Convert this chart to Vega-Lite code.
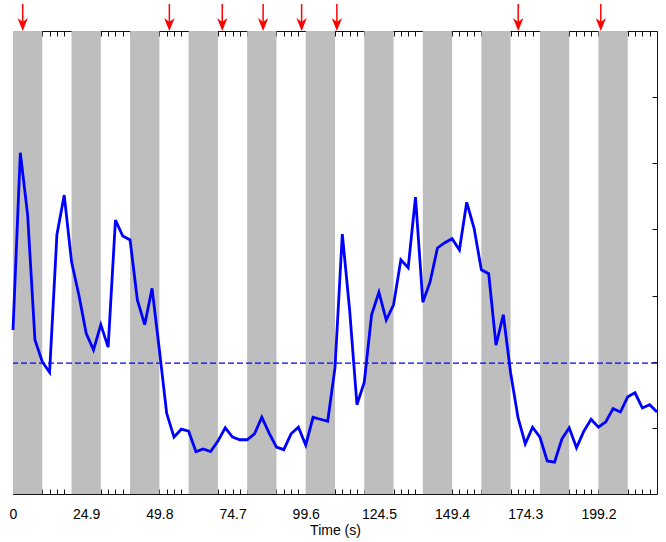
{
  "$schema": "https://vega.github.io/schema/vega-lite/v6.json",
  "width": 644,
  "height": 463,
  "autosize": {"type": "none"},
  "padding": {"left": 13, "top": 31, "right": 9, "bottom": 48},
  "background": "#ffffff",
  "config": {
    "view": {"stroke": "#111111", "strokeWidth": 1},
    "axis": {"grid": false, "domain": false, "labelFont": "Liberation Sans", "titleFont": "Liberation Sans", "tickColor": "#111111", "tickWidth": 1, "zindex": 1}
  },
  "datasets": {
    "signal": [
      {"t": 0, "v": 2.48}, {"t": 2.49, "v": 5.16}, {"t": 4.98, "v": 4.22}, {"t": 7.47, "v": 2.33}, {"t": 9.96, "v": 2.0},
      {"t": 12.45, "v": 1.84}, {"t": 14.94, "v": 3.92}, {"t": 17.43, "v": 4.52}, {"t": 19.92, "v": 3.51}, {"t": 22.41, "v": 3.01},
      {"t": 24.9, "v": 2.43}, {"t": 27.39, "v": 2.18}, {"t": 29.88, "v": 2.56}, {"t": 32.37, "v": 2.22}, {"t": 34.86, "v": 4.14},
      {"t": 37.35, "v": 3.9}, {"t": 39.84, "v": 3.84}, {"t": 42.33, "v": 2.93}, {"t": 44.82, "v": 2.56}, {"t": 47.31, "v": 3.11},
      {"t": 49.8, "v": 2.18}, {"t": 52.29, "v": 1.22}, {"t": 54.78, "v": 0.86}, {"t": 57.27, "v": 0.98}, {"t": 59.76, "v": 0.95},
      {"t": 62.25, "v": 0.64}, {"t": 64.74, "v": 0.68}, {"t": 67.23, "v": 0.64}, {"t": 69.72, "v": 0.8}, {"t": 72.21, "v": 1.0},
      {"t": 74.7, "v": 0.86}, {"t": 77.19, "v": 0.82}, {"t": 79.68, "v": 0.82}, {"t": 82.17, "v": 0.91}, {"t": 84.66, "v": 1.16},
      {"t": 87.15, "v": 0.92}, {"t": 89.64, "v": 0.71}, {"t": 92.13, "v": 0.67}, {"t": 94.62, "v": 0.91}, {"t": 97.11, "v": 1.01},
      {"t": 99.6, "v": 0.74}, {"t": 102.09, "v": 1.16}, {"t": 104.58, "v": 1.13}, {"t": 107.07, "v": 1.1}, {"t": 109.56, "v": 1.91},
      {"t": 112.05, "v": 3.93}, {"t": 114.54, "v": 2.78}, {"t": 117.03, "v": 1.35}, {"t": 119.52, "v": 1.69}, {"t": 122.01, "v": 2.71},
      {"t": 124.5, "v": 3.05}, {"t": 126.99, "v": 2.63}, {"t": 129.48, "v": 2.86}, {"t": 131.97, "v": 3.54}, {"t": 134.46, "v": 3.42},
      {"t": 136.95, "v": 4.49}, {"t": 139.44, "v": 2.9}, {"t": 141.93, "v": 3.21}, {"t": 144.42, "v": 3.72}, {"t": 146.91, "v": 3.8},
      {"t": 149.4, "v": 3.86}, {"t": 151.89, "v": 3.69}, {"t": 154.38, "v": 4.41}, {"t": 156.87, "v": 4.02}, {"t": 159.36, "v": 3.39},
      {"t": 161.85, "v": 3.33}, {"t": 164.34, "v": 2.25}, {"t": 166.83, "v": 2.71}, {"t": 169.32, "v": 1.83}, {"t": 171.81, "v": 1.16},
      {"t": 174.3, "v": 0.76}, {"t": 176.79, "v": 1.01}, {"t": 179.28, "v": 0.86}, {"t": 181.77, "v": 0.5}, {"t": 184.26, "v": 0.48},
      {"t": 186.75, "v": 0.83}, {"t": 189.24, "v": 1.0}, {"t": 191.73, "v": 0.7}, {"t": 194.22, "v": 0.95}, {"t": 196.71, "v": 1.13},
      {"t": 199.2, "v": 1.01}, {"t": 201.69, "v": 1.09}, {"t": 204.18, "v": 1.29}, {"t": 206.67, "v": 1.24}, {"t": 209.16, "v": 1.47},
      {"t": 211.65, "v": 1.53}, {"t": 214.14, "v": 1.3}, {"t": 216.63, "v": 1.35}, {"t": 219.12, "v": 1.24}
    ],
    "blocks": [
      {"start": 0, "end": 9.96}, {"start": 19.92, "end": 29.88}, {"start": 39.84, "end": 49.8}, {"start": 59.76, "end": 69.72},
      {"start": 79.68, "end": 89.64}, {"start": 99.6, "end": 109.56}, {"start": 119.52, "end": 129.48}, {"start": 139.44, "end": 149.4},
      {"start": 159.36, "end": 169.32}, {"start": 179.28, "end": 189.24}, {"start": 199.2, "end": 209.16}
    ],
    "events": [
      {"t": 3.3}, {"t": 53.2}, {"t": 71.2}, {"t": 85.1}, {"t": 98.2}, {"t": 110.2}, {"t": 171.9}, {"t": 200.0}
    ],
    "baseline": [{"level": 1.98}]
  },
  "layer": [
    {
      "data": {"name": "blocks"},
      "mark": {"type": "rect", "color": "#bebebe"},
      "encoding": {
        "x": {
          "field": "start", "type": "quantitative",
          "scale": {"domain": [0, 219.12], "nice": false, "zero": false},
          "axis": {
            "orient": "bottom",
            "values": [0,2.49,4.98,7.47,9.96,12.45,14.94,17.43,19.92,22.41,24.9,27.39,29.88,32.37,34.86,37.35,39.84,42.33,44.82,47.31,49.8,52.29,54.78,57.27,59.76,62.25,64.74,67.23,69.72,72.21,74.7,77.19,79.68,82.17,84.66,87.15,89.64,92.13,94.62,97.11,99.6,102.09,104.58,107.07,109.56,112.05,114.54,117.03,119.52,122.01,124.5,126.99,129.48,131.97,134.46,136.95,139.44,141.93,144.42,146.91,149.4,151.89,154.38,156.87,159.36,161.85,164.34,166.83,169.32,171.81,174.3,176.79,179.28,181.77,184.26,186.75,189.24,191.73,194.22,196.71,199.2,201.69,204.18,206.67,209.16,211.65,214.14,216.63,219.12],
            "labelExpr": "indexof([0,24.9,49.8,74.7,99.6,124.5,149.4,174.3,199.2], datum.value) >= 0 ? toString(datum.value) : ''",
            "labelOverlap": false, "labelFlush": false, "labelBound": false,
            "tickSize": -5, "labelPadding": 18, "labelFontSize": 14, "labelColor": "#000000",
            "title": "Time (s)", "titleFontSize": 14, "titleFontWeight": "normal", "titleColor": "#000000", "titlePadding": 2
          }
        },
        "x2": {"field": "end"}
      }
    },
    {
      "data": {"name": "baseline"},
      "mark": {"type": "rule", "color": "#0000ff", "strokeWidth": 1.3, "strokeDash": [6, 3]},
      "encoding": {
        "y": {
          "field": "level", "type": "quantitative",
          "scale": {"domain": [0, 7], "nice": false, "zero": false},
          "axis": {"orient": "right", "values": [1, 2, 3, 4, 5, 6], "labels": false, "tickSize": -5, "title": null}
        }
      }
    },
    {
      "data": {"name": "signal"},
      "mark": {"type": "line", "color": "#0000ff", "strokeWidth": 2.8},
      "encoding": {
        "x": {
          "field": "t", "type": "quantitative",
          "scale": {"domain": [0, 219.12], "nice": false, "zero": false},
          "axis": {
            "orient": "top",
            "values": [0,2.49,4.98,7.47,9.96,12.45,14.94,17.43,19.92,22.41,24.9,27.39,29.88,32.37,34.86,37.35,39.84,42.33,44.82,47.31,49.8,52.29,54.78,57.27,59.76,62.25,64.74,67.23,69.72,72.21,74.7,77.19,79.68,82.17,84.66,87.15,89.64,92.13,94.62,97.11,99.6,102.09,104.58,107.07,109.56,112.05,114.54,117.03,119.52,122.01,124.5,126.99,129.48,131.97,134.46,136.95,139.44,141.93,144.42,146.91,149.4,151.89,154.38,156.87,159.36,161.85,164.34,166.83,169.32,171.81,174.3,176.79,179.28,181.77,184.26,186.75,189.24,191.73,194.22,196.71,199.2,201.69,204.18,206.67,209.16,211.65,214.14,216.63,219.12],
            "labels": false, "tickSize": -5, "title": null
          }
        },
        "y": {
          "field": "v", "type": "quantitative",
          "scale": {"domain": [0, 7], "nice": false, "zero": false},
          "axis": {"orient": "left", "values": [1, 2, 3, 4, 5, 6], "labels": false, "tickSize": -5, "title": null}
        }
      }
    },
    {
      "data": {"name": "events"},
      "mark": {"type": "rule", "color": "#ff0000", "strokeWidth": 1.5},
      "encoding": {
        "x": {"field": "t", "type": "quantitative", "axis": null},
        "y": {"datum": 7.1, "type": "quantitative", "axis": null},
        "y2": {"datum": 7.41}
      }
    },
    {
      "data": {"name": "events"},
      "mark": {"type": "point", "shape": "M0,1L-0.8,-1L0,-0.4L0.8,-1Z", "filled": true, "color": "#ff0000", "size": 169, "opacity": 1, "strokeWidth": 0},
      "encoding": {
        "x": {"field": "t", "type": "quantitative", "axis": null},
        "y": {"datum": 7.098, "type": "quantitative", "axis": null}
      }
    }
  ],
  "resolve": {"axis": {"x": "independent", "y": "independent"}}
}
